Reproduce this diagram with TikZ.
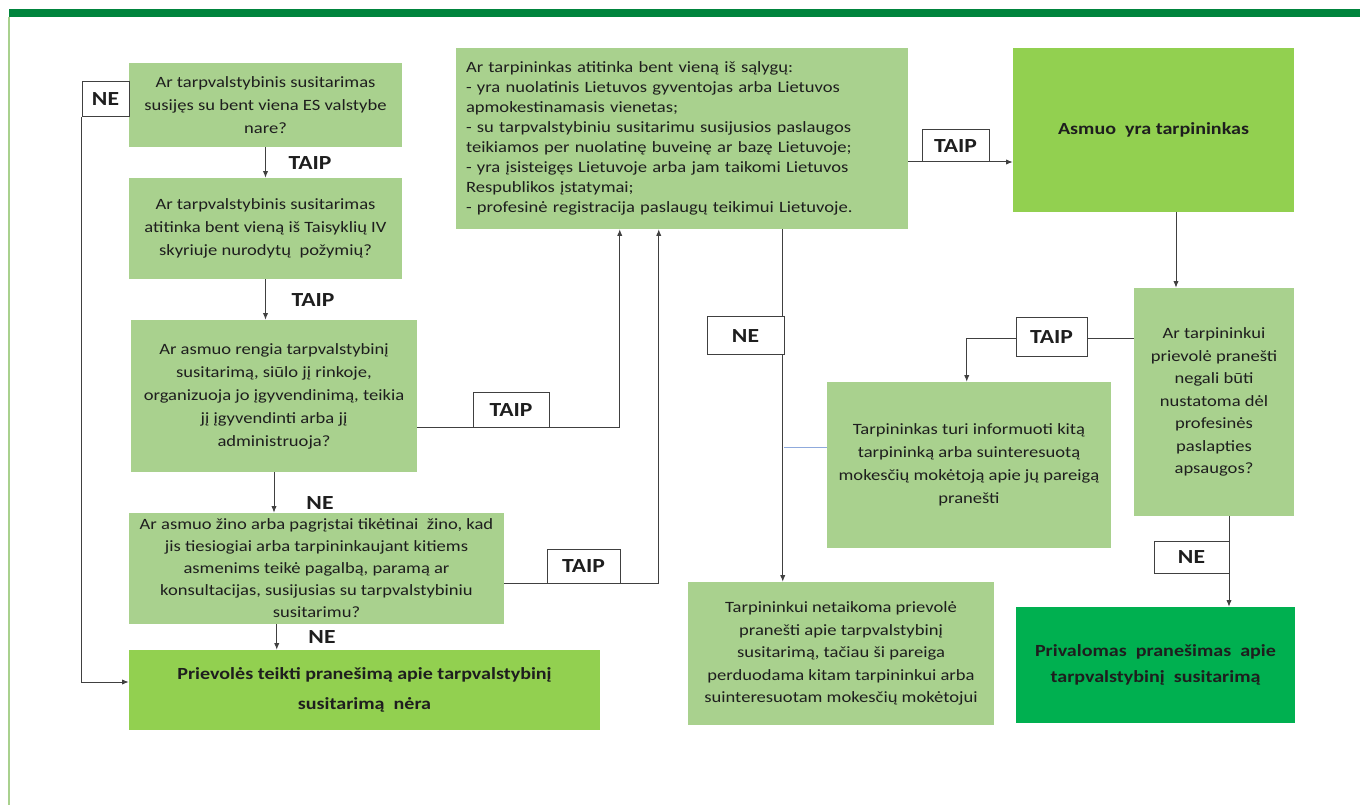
\documentclass[tikz,border=0pt]{standalone}
\usepackage{fontspec}
\setmainfont{Carlito}[FakeStretch=1.18]
\usetikzlibrary{arrows.meta,calc}
\definecolor{lgreen}{HTML}{A9D18E}
\definecolor{bgreen}{HTML}{92D050}
\definecolor{dgreen}{HTML}{00B050}
\definecolor{barg}{HTML}{00843D}
\definecolor{linec}{HTML}{404040}
\definecolor{txt}{HTML}{1E1E1E}
\definecolor{bluel}{HTML}{8FAADC}
\begin{document}
\begin{tikzpicture}[x=0.75pt,y=-0.75pt,
  sz/.style 2 args={minimum width=#1*0.75pt, minimum height=#2*0.75pt},
  box/.style={fill=lgreen, text=txt, align=center, inner sep=0pt, font=\fontsize{11.8}{17.25}\selectfont},
  bbox/.style={text=txt, align=center, inner sep=0pt, font=\bfseries\fontsize{12.75}{22.5}\selectfont},
  arr/.style={draw=linec, line width=0.75pt, -{Latex[length=5pt,width=4pt]}},
  ln/.style={draw=linec, line width=0.75pt},
  lab/.style={draw=linec, fill=white, line width=0.75pt, text=txt, inner sep=0pt, font=\bfseries\fontsize{15}{18}\selectfont},
  lbl/.style={text=txt, inner sep=0pt, font=\bfseries\fontsize{15}{18}\selectfont}
]
\useasboundingbox (0,0) rectangle (1360,805);
% frame
\fill[barg] (9,9) rectangle (1360,17);
\draw[lgreen, line width=1.1pt] (9,17) -- (9,805);

% boxes
\node[box, sz={273}{84}] (A) at (265.5,105) {Ar tarpvalstybinis susitarimas\\susijęs su bent viena ES valstybe\\nare?};
\node[box, sz={273}{101}] (B) at (265.5,228.5) {Ar tarpvalstybinis susitarimas\\atitinka bent vieną iš Taisyklių IV\\skyriuje nurodytų~ požymių?};
\node[box, sz={286}{152}] (C) at (274,396) {Ar asmuo rengia tarpvalstybinį\\susitarimą, siūlo jį rinkoje,\\organizuoja jo įgyvendinimą, teikia\\jį įgyvendinti arba jį\\administruoja?};
\node[box, sz={375}{111}, font=\fontsize{11.8}{16.5}\selectfont] (D) at (316.5,568.5) {Ar asmuo žino arba pagrįstai tikėtinai~ žino, kad\\jis tiesiogiai arba tarpininkaujant kitiems\\asmenims teikė pagalbą, paramą ar\\konsultacijas, susijusias su tarpvalstybiniu\\susitarimu?};
\node[bbox, fill=bgreen, sz={471}{80}] (E) at (364.5,690) {Prievolės teikti pranešimą apie tarpvalstybinį\\susitarimą~ nėra};
\node[box, align=left, text width=432*0.75pt, inner xsep=7.5pt, minimum height=181*0.75pt, font=\fontsize{11.8}{15}\selectfont] (M) at (682,138.5) {Ar tarpininkas atitinka bent vieną iš sąlygų:\\- yra nuolatinis Lietuvos gyventojas arba Lietuvos\\apmokestinamasis vienetas;\\- su tarpvalstybiniu susitarimu susijusios paslaugos\\teikiamos per nuolatinę buveinę ar bazę Lietuvoje;\\- yra įsisteigęs Lietuvoje arba jam taikomi Lietuvos\\Respublikos įstatymai;\\- profesinė registracija paslaugų teikimui Lietuvoje.};
\node[bbox, fill=bgreen, sz={281}{164}] (AS) at (1153.5,130) {Asmuo~ yra tarpininkas};
\node[box, sz={160}{228}, font=\fontsize{11.8}{16.9}\selectfont] (Q) at (1214,402) {Ar tarpininkui\\prievolė pranešti\\negali būti\\nustatoma dėl\\profesinės\\paslapties\\apsaugos?};
\node[box, sz={284}{166}] (T) at (969,465) {Tarpininkas turi informuoti kitą\\tarpininką arba suinteresuotą\\mokesčių mokėtoją apie jų pareigą\\pranešti};
\node[box, sz={306}{143}, font=\fontsize{11.8}{16.9}\selectfont] (N) at (841,653.5) {Tarpininkui netaikoma prievolė\\pranešti apie tarpvalstybinį\\susitarimą, tačiau ši pareiga\\perduodama kitam tarpininkui arba\\suinteresuotam mokesčių mokėtojui};
\node[bbox, fill=dgreen, sz={279}{116}, font=\bfseries\fontsize{12.75}{20}\selectfont] (P) at (1155.5,665) {Privalomas~ pranešimas~ apie\\tarpvalstybinį~ susitarimą};

% connectors
\draw[arr] (A) -- (B);
\draw[arr] (B.south) -- (B.south |- C.north);
\draw[arr] (C.south) -- (C.south |- D.north);
\coordinate (d1) at ($(D.south west)+(148,0)$);
\draw[arr] (d1) -- (d1 |- E.north);
\coordinate (c1) at ($(C.east)+(0,32)$);
\coordinate (m1) at ($(M.south west)+(164,0)$);
\draw[arr] (c1) -| (m1);
\coordinate (d2) at ($(D.east)+(0,14.5)$);
\coordinate (m2) at ($(M.south west)+(203,0)$);
\draw[arr] (d2) -| (m2);
\coordinate (m3) at ($(M.east)+(0,23.5)$);
\draw[arr] (m3) -- (m3 -| AS.west);
\coordinate (as1) at ($(AS.south)+(22.5,0)$);
\draw[arr] (as1) -- (as1 |- Q.north);
\coordinate (q1) at ($(Q.west)+(0,-63)$);
\coordinate (t1) at ($(T.north west)+(140,0)$);
\draw[arr] (q1) -| (t1);
\coordinate (q2) at ($(Q.south)+(15,0)$);
\draw[arr] (q2) -- (q2 |- P.north);
\coordinate (m4) at ($(M.south west)+(327,0)$);
\draw[arr] (m4) -- (m4 |- N.north);
\coordinate (t2) at ($(T.west)+(0,-18)$);
\coordinate (jn) at ($(t2)+(-43,0)$);
\draw[bluel, line width=0.75pt] (t2) -- (jn);

% labels
\node[lab, sz={47}{35}] (neA) at (105.5,99.5) {NE};
\draw[arr] (neA.south west) |- ($(E.west)+(0,-8)$);
\node[lbl] (tA) at (310,163) {TAIP};
\node[lbl] (tB) at (313,300) {TAIP};
\node[lbl] (nC) at (320,503) {NE};
\node[lbl] (nD) at (322,637) {NE};
\node[lab, sz={76}{35}] (tC) at (511,410.5) {TAIP};
\node[lab, sz={73}{34}] (tD) at (583.5,566) {TAIP};
\node[lab, sz={67}{32}] (tM) at (955.5,146) {TAIP};
\node[lab, sz={71}{39}] (tQ) at (1051.5,337.5) {TAIP};
\node[lab, sz={77}{38}] (nM) at (745.5,336) {NE};
\node[lab, sz={75}{32}] (nQ) at (1191.5,557) {NE};
\end{tikzpicture}
\end{document}
